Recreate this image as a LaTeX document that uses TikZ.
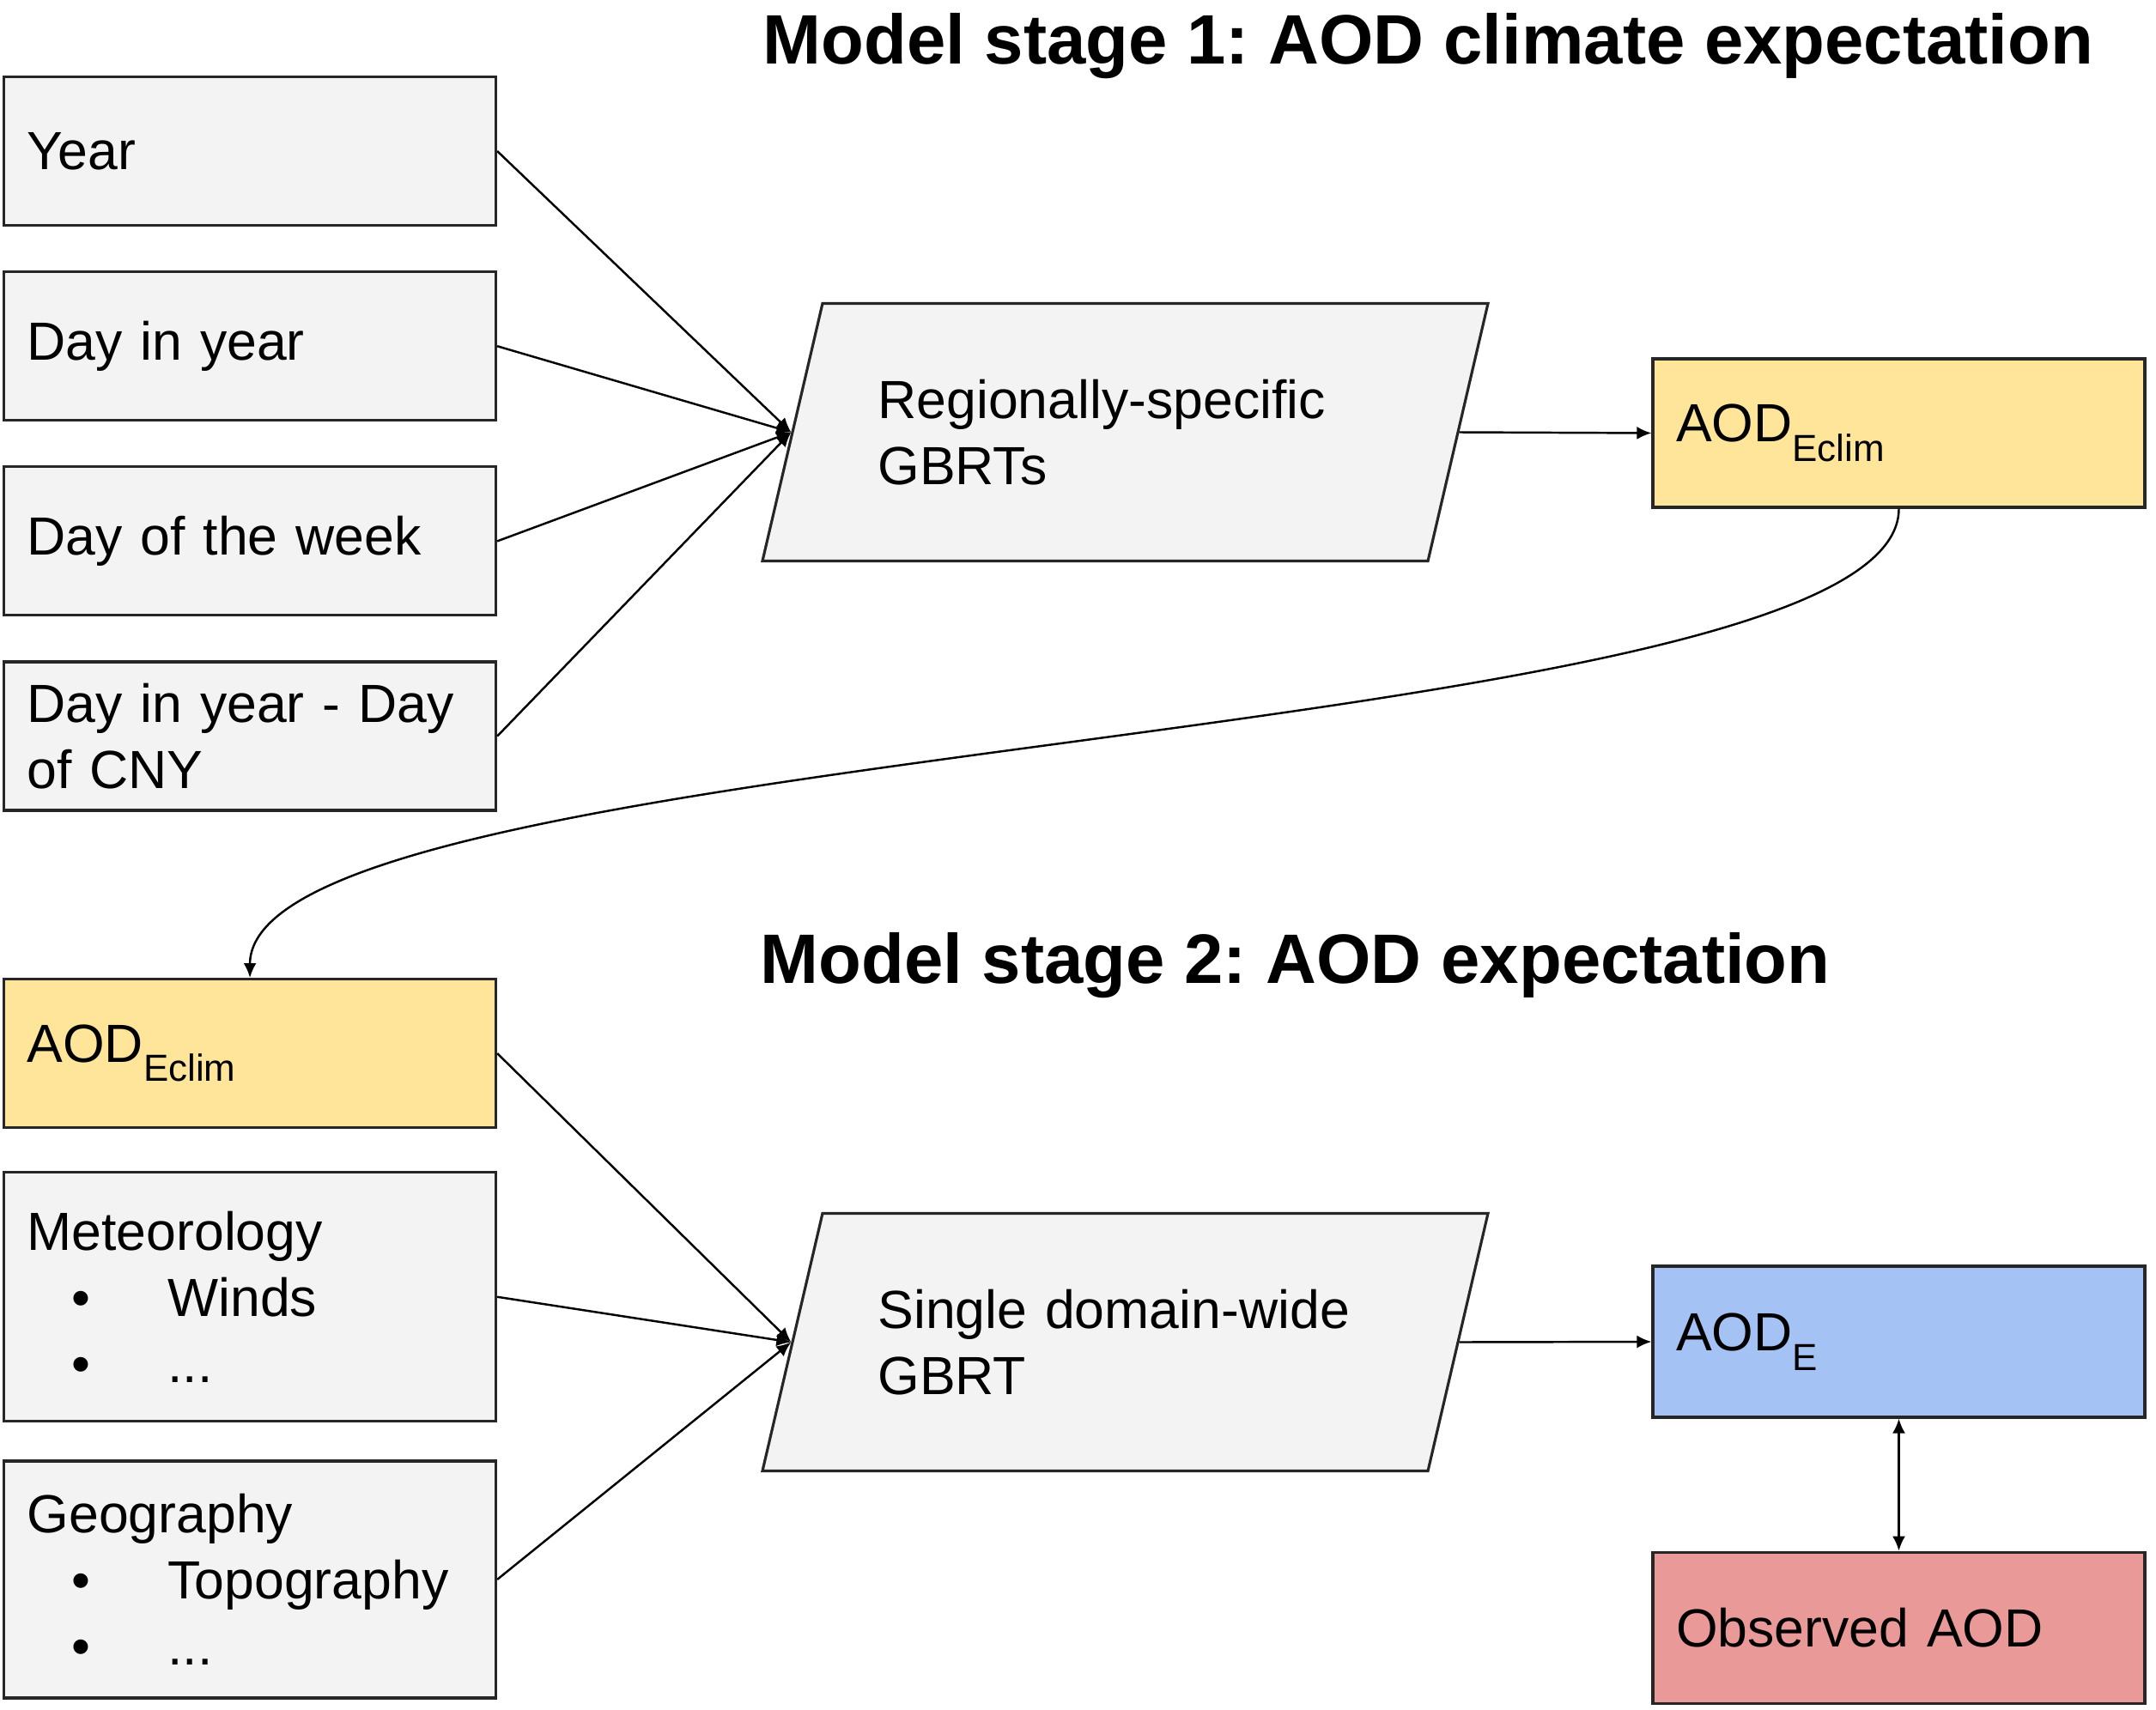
\documentclass[tikz,border=0pt]{standalone}
\usepackage{fontspec}
\setmainfont{Liberation Sans}
\usetikzlibrary{arrows.meta, shapes.geometric, positioning}
\definecolor{boxgray}{HTML}{F3F3F3}
\definecolor{climyellow}{HTML}{FFE599}
\definecolor{expblue}{HTML}{A4C2F4}
\definecolor{obsred}{HTML}{EA9999}
\frenchspacing
\newcommand{\lowsub}[1]{\raisebox{-0.36em}{\fontsize{12.5}{12.5}\selectfont #1}}
\newcommand{\bitem}[1]{\hspace*{0.52cm}\textbullet\hspace*{0.9cm}#1}
\tikzset{
	inbox/.style={rectangle, draw=black!85, line width=0.9pt, fill=boxgray,
		text width=5.19cm, inner xsep=0.27cm, align=left, minimum height=1.73cm,
		font=\fontsize{17.8}{22}\selectfont},
	climbox/.style={inbox, fill=climyellow},
	expbox/.style={inbox, fill=expblue, minimum height=1.76cm},
	obsbox/.style={inbox, fill=obsred, minimum height=1.76cm},
	gbrt/.style={trapezium, trapezium left angle=64.5, trapezium right angle=115.5,
		trapezium stretches body, draw=black!85, line width=0.9pt, fill=boxgray,
		minimum width=8.45cm, minimum height=3cm, text width=5.76cm, align=left,
		font=\fontsize{17.8}{22}\selectfont},
	stagetitle/.style={anchor=base west, inner sep=0pt, font=\fontsize{23.2}{28}\selectfont\bfseries},
	>={Latex[length=1.7mm, width=1.5mm]},
	line/.style={draw, line width=0.7pt, ->}
}
\begin{document}
\begin{tikzpicture}
	\useasboundingbox (0,0) rectangle (25.11,-19.92);
	% stage 1
	\node[stagetitle] (title1) at (8.88,-0.75) {Model stage 1: AOD climate expectation};
	\node[inbox, anchor=north west] (year) at (0.03,-0.88) {Year};
	\node[inbox, below=0.51cm of year] (doy) {Day in year};
	\node[inbox, below=0.51cm of doy] (dow) {Day of the week};
	\node[inbox, below=0.51cm of dow] (cny) {Day in year - Day\\of CNY};
	\node[gbrt] (gbrt1) at (13.105,-5.035) {Regionally-specific\\GBRTs};
	\node[climbox] (eclim1) at (22.115,-5.045) {AOD\lowsub{Eclim}};
	\foreach \src in {year, doy, dow, cny}
		\path[line] (\src.east) -- (gbrt1.west);
	\path[line] (gbrt1.east) -- (eclim1.west);
	
	% stage 2
	\node[stagetitle] (title2) at (8.85,-11.45) {Model stage 2: AOD expectation};
	\node[climbox, anchor=north west] (eclim2) at (0.03,-11.39) {AOD\lowsub{Eclim}};
	\node[inbox, below=0.49cm of eclim2, minimum height=2.9cm] (met) {Meteorology\\\bitem{Winds}\\\bitem{...}};
	\node[inbox, below=0.43cm of met, minimum height=2.76cm] (geo) {Geography\\\bitem{Topography}\\\bitem{...}};
	\node[gbrt] (gbrt2) at (13.105,-15.635) {Single domain-wide\\GBRT};
	\node[expbox] (aode) at (22.115,-15.63) {AOD\lowsub{E}};
	\node[obsbox, below=1.54cm of aode] (obs) {Observed AOD};
	\foreach \src in {eclim2, met, geo}
		\path[line] (\src.east) -- (gbrt2.west);
	\path[line] (gbrt2.east) -- (aode.west);
	\path[line, <->] (aode.south) -- (obs.north);
	
	% climate expectation fed into stage 2
	\path[line] (eclim1.south) .. controls +(0,-2.8) and +(0,2.8) .. (eclim2.north);
\end{tikzpicture}
\end{document}
